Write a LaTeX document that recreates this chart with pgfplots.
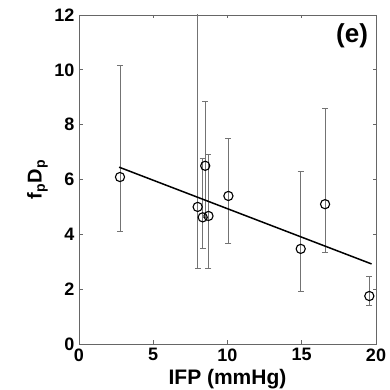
\documentclass[border=0pt]{standalone}
\usepackage{pgfplots}
\pgfplotsset{compat=1.18}
\usepackage{fontspec}
\setmainfont{Liberation Sans}
\begin{document}
\begin{tikzpicture}
\begin{axis}[
  scale only axis,
  width=297pt, height=329pt,
  xmin=0, xmax=20, ymin=0, ymax=12,
  xtick={0,5,10,15,20}, ytick={0,2,4,6,8,10,12},
  tick align=inside, major tick length=3.5pt,
  axis line style={draw=black!60, line width=0.9pt},
  tick style={draw=black!60, line width=0.8pt},
  /pgf/number format/assume math mode=true,
  ticklabel style={font=\fontsize{18}{18}\selectfont\bfseries},
  xticklabel style={yshift=-1pt},
  yticklabel style={xshift=-1pt},
  xlabel={IFP (mmHg)},
  ylabel={f\textsubscript{p}D\textsubscript{p}},
  xlabel style={font=\fontsize{21}{21}\selectfont\bfseries, at={(axis description cs:0.5,0)}, anchor=base, yshift=-40pt},
  ylabel style={font=\fontsize{20}{20}\selectfont\bfseries, at={(axis description cs:-0.14,0.5)}, anchor=center},
  clip=true,
]
\addplot[only marks, mark=o, mark size=4.6pt, black, line width=1.1pt,
  error bars/.cd, y dir=both, y explicit,
  error mark=-,
  error bar style={draw=black!55, line width=0.9pt},
  error mark options={draw=black!55, line width=0.9pt, mark size=3pt, rotate=90}]
  table[x=x, y=y, y error plus=ep, y error minus=em] {
x y ep em
2.76 6.09 4.06 2.00
7.99 5.00 9.00 2.23
8.33 4.62 2.13 1.12
8.50 6.50 2.33 1.90
8.72 4.67 2.23 1.90
10.06 5.40 2.08 1.75
14.93 3.47 2.84 1.57
16.57 5.10 3.50 1.75
19.55 1.75 0.73 0.35
};
\addplot[black, line width=1.5pt] coordinates {(2.7,6.45) (19.7,2.92)};
\node[anchor=north east, font=\fontsize{26}{26}\selectfont\bfseries] at (rel axis cs:0.985,0.985) {(e)};
\end{axis}
\pgfresetboundingbox
\path[use as bounding box] (-79pt,-46pt) rectangle (310pt,344pt);
\end{tikzpicture}
\end{document}
